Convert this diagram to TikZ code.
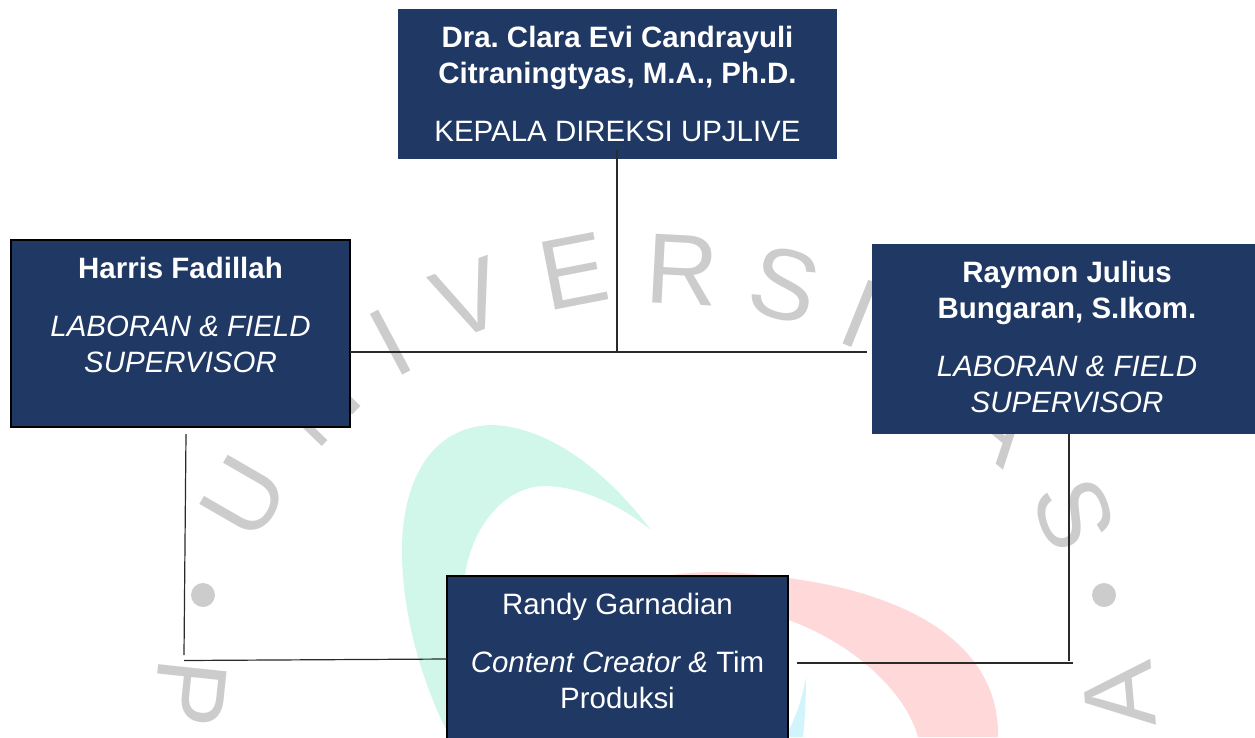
\documentclass[tikz,border=0pt]{standalone}
\usepackage{fontspec}
\setmainfont{Liberation Sans}
\frenchspacing
\definecolor{navy}{HTML}{1F3864}
\definecolor{wmgray}{HTML}{CCCCCC}
\definecolor{mintc}{HTML}{D0F7E9}
\definecolor{pinkc}{HTML}{FFD9DA}
\definecolor{cyanc}{HTML}{D2F5FD}
\definecolor{wire}{HTML}{2A2A2A}
\newcommand{\boxbody}[5][0pt]{% shift, width, height, first baseline, content
  \begin{minipage}[t][#3][t]{#2}\fontsize{29.45}{36}\selectfont\centering
  \leftskip=#1 plus 1fil\rightskip=0pt plus 1fil\parfillskip=0pt\parskip=22pt
  \rule{0pt}{#4}#5\end{minipage}}
\tikzset{
  orgbox/.style={fill=navy,text=white,anchor=north west,inner sep=0pt,outer sep=0pt},
  ruled/.style={orgbox,draw=black,line width=2pt},
  wm/.style={text=wmgray,inner sep=0pt,font=\fontsize{100}{100}\selectfont},
  wire line/.style={draw=wire,line width=1.2pt}
}
\begin{document}
\begin{tikzpicture}[x=1pt,y=-1pt]
\useasboundingbox (0,0) rectangle (1255,737);
% faded logo
\fill[mintc] (651,530) .. controls (590,450) and (530,425) .. (490,425)
  .. controls (425,428) and (402,490) .. (402,550)
  .. controls (402,620) and (425,690) .. (450,737) -- (480,737) -- (463,600)
  .. controls (463,530) and (505,486) .. (544,486)
  .. controls (580,486) and (620,505) .. (651,530) -- cycle;
\fill[pinkc] (672,575) .. controls (700,571) and (730,571) .. (760,575)
  .. controls (880,585) and (1000,630) .. (998,737) -- (918,737)
  .. controls (905,690) and (850,640) .. (780,617) -- (672,600) -- cycle;
\fill[cyanc] (806,677) .. controls (806,700) and (805,720) .. (803,737) -- (785,737) .. controls (795,720) and (802,700) .. (806,677) -- cycle;
% watermark letters
\node[wm,rotate=-96] (wP) at (190,693) {P};
\fill[wmgray] (203,595) circle (12);
\node[wm,rotate=60] (wU) at (244,497) {U};
\node[wm,rotate=46] (wN) at (317,403) {N};
\node[wm,rotate=28] (wI) at (391,343) {I};
\node[wm,rotate=20] (wV) at (469,299) {V};
\node[wm,rotate=11] (wE) at (574,271) {E};
\node[wm,rotate=-3] (wR) at (682,270) {R};
\node[wm,rotate=-15] (wS) at (785,285) {S};
\node[wm,rotate=-22] (wIb) at (860,314) {I};
\node[wm,rotate=-40] (wA) at (1000,423) {A};
\node[wm,rotate=-70] (wSb) at (1074,514) {S};
\fill[wmgray] (1104,595) circle (12);
\node[wm,rotate=95] (wAb) at (1119,695) {A};
% boxes
\node[orgbox] (kepala) at (398,9) {\boxbody{439pt}{150pt}{38pt}{\textbf{Dra. Clara Evi Candrayuli\\Citraningtyas, M.A., Ph.D.}\par KEPALA DIREKSI UPJLIVE}};
\node[ruled] (harris) at (11,240) {\boxbody{339pt}{187pt}{38pt}{\textbf{Harris Fadillah}\par\textit{LABORAN \& FIELD\\SUPERVISOR}}};
\node[orgbox] (raymon) at (872,244) {\boxbody[7pt]{383pt}{190pt}{38pt}{\textbf{Raymon Julius\\Bungaran, S.Ikom.}\par\textit{LABORAN \& FIELD\\SUPERVISOR}}};
\node[ruled] (randy) at (447,576) {\boxbody{341pt}{190pt}{38pt}{Randy Garnadian\par\textit{Content Creator \&} Tim\\Produksi}};
% free ends
\coordinate (kstart) at (617,150);
\coordinate (junction) at (617,352);
\coordinate (rgap) at (867,352);
\coordinate (hstart) at (186,434);
\coordinate (hend) at (184,655);
\coordinate (hcorner) at (184,660.5);
\coordinate (rstart) at (1069,434);
\coordinate (rend) at (1069,661);
\coordinate (bstart) at (797,663);
\coordinate (bend) at (1073,663);
% connectors
\draw[wire line] (kstart) -- (junction);
\draw[wire line] (harris.east |- junction) -- (rgap);
\draw[wire line] (hstart) -- (hend);
\draw[wire line] (hcorner) -- (randy.west |- 0,659);
\draw[wire line] (rstart) -- (rend);
\draw[wire line] (bstart) -- (bend);
\end{tikzpicture}
\end{document}
